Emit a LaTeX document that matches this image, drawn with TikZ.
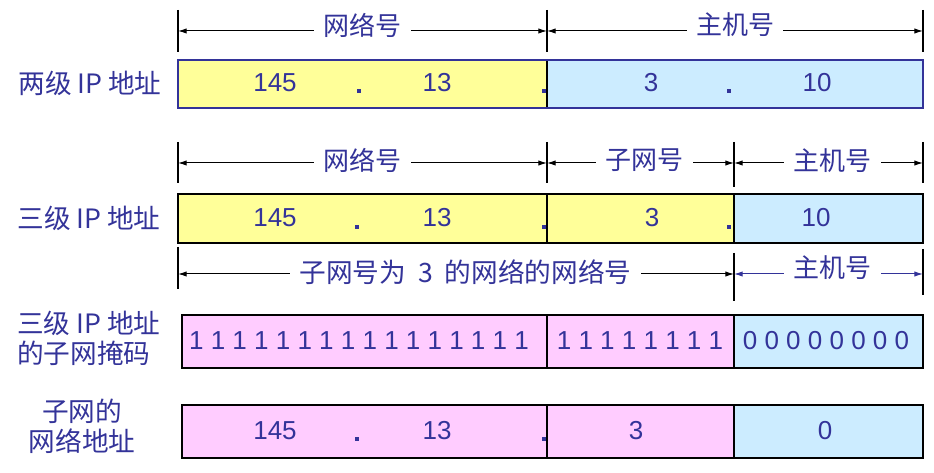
\documentclass[tikz,border=0pt]{standalone}
\usepackage{fontspec}
\setmainfont{Liberation Sans}
\newfontfamily\cjk{Noto Sans CJK SC}
\usetikzlibrary{arrows.meta}
\definecolor{txt}{RGB}{51,51,153}
\definecolor{yel}{RGB}{255,255,153}
\definecolor{lblue}{RGB}{204,236,255}
\definecolor{pnk}{RGB}{255,204,255}
\begin{document}
\begin{tikzpicture}[x=0.75pt,y=-0.75pt,
  num/.style={text=txt,font=\fontsize{19.5}{22}\selectfont,inner sep=0pt},
  lbl/.style={text=txt,font=\cjk\fontsize{19.5}{22.5}\selectfont,inner sep=0pt},
  sidelbl/.style={text=txt,font=\cjk\fontsize{20}{22.5}\selectfont,inner sep=0pt},
  toplbl/.style={lbl,fill=white,inner xsep=7pt,inner ysep=2pt},
  dimline/.style={draw=black,line width=0.75pt,{Latex[length=6.5pt,width=4pt]}-{Latex[length=6.5pt,width=4pt]}},
  bluedim/.style={dimline,draw=txt,{Latex[length=6.5pt,width=4pt,color=txt]}-{Latex[length=6.5pt,width=4pt,color=txt]}},
  tickline/.style={draw=black,line width=1pt},
  border/.style={draw=black,line width=1.1pt},
  dotm/.style={fill=txt,minimum size=3.2pt,inner sep=0pt}
]
\useasboundingbox (0,0) rectangle (934,473);

% ---------------- Row 1 : two-level address ----------------
\coordinate (r1t1a) at (178,10); \coordinate (r1t1b) at (178,52);
\coordinate (r1t2a) at (547,10); \coordinate (r1t2b) at (547,52);
\coordinate (r1t3a) at (923,10); \coordinate (r1t3b) at (923,52);
\draw[tickline] (r1t1a) -- (r1t1b);
\draw[tickline] (r1t2a) -- (r1t2b);
\draw[tickline] (r1t3a) -- (r1t3b);
\coordinate (r1a1) at (178,31); \coordinate (r1a2) at (547,31); \coordinate (r1a3) at (923,31);
\draw[dimline] (r1a1) -- node[toplbl,yshift=4.5pt] (r1net) {网络号} (r1a2);
\draw[dimline] (r1a2) -- node[toplbl,yshift=4.5pt] (r1host) {主机号} (r1a3);

\fill[yel] (178,60) rectangle (547,108);
\fill[lblue] (547,60) rectangle (923,108);
\draw[draw=black,line width=1.1pt] (547,60) -- (547,108);
\draw[draw=txt,line width=1.1pt] (178,60) rectangle (923,108);
\node[sidelbl] (L1) at (90,83) {两级 IP 地址};
\node[num] (r1n1) at (275,83) {145};
\node[num] (r1n2) at (437,83) {13};
\node[num] (r1n3) at (651,83) {3};
\node[num] (r1n4) at (817,83) {10};
\node[dotm] (r1d1) at (359,91) {};
\node[dotm] (r1d2) at (544,91) {};
\node[dotm] (r1d3) at (729,91) {};

% ---------------- Row 2 : three-level address ----------------
\coordinate (r2t1a) at (178,142); \coordinate (r2t1b) at (178,183);
\coordinate (r2t2a) at (547,142); \coordinate (r2t2b) at (547,183);
\coordinate (r2t3a) at (734,142); \coordinate (r2t3b) at (734,187);
\coordinate (r2t4a) at (923,142); \coordinate (r2t4b) at (923,183);
\draw[tickline] (r2t1a) -- (r2t1b);
\draw[tickline] (r2t2a) -- (r2t2b);
\draw[tickline] (r2t3a) -- (r2t3b);
\draw[tickline] (r2t4a) -- (r2t4b);
\coordinate (r2a1) at (178,163); \coordinate (r2a2) at (547,163);
\coordinate (r2a3) at (734,163); \coordinate (r2a4) at (923,163);
\draw[dimline] (r2a1) -- node[toplbl,yshift=2pt] (r2net) {网络号} (r2a2);
\draw[dimline] (r2a2) -- node[toplbl,yshift=2pt,xshift=3pt] (r2sub) {子网号} (r2a3);
\draw[dimline] (r2a3) -- node[toplbl,yshift=2pt,xshift=3pt] (r2host) {主机号} (r2a4);

\fill[yel] (178,194) rectangle (734,243);
\fill[lblue] (734,194) rectangle (923,243);
\draw[border] (547,194) -- (547,243);
\draw[border] (734,194) -- (734,243);
\draw[border] (178,194) rectangle (923,243);
\node[sidelbl] (L2) at (89,218) {三级 IP 地址};
\node[num] (r2n1) at (275,218) {145};
\node[num] (r2n2) at (437,218) {13};
\node[num] (r2n3) at (652,218) {3};
\node[num] (r2n4) at (816,218) {10};
\node[dotm] (r2d1) at (357,227) {};
\node[dotm] (r2d2) at (544,227) {};
\node[dotm] (r2d3) at (729,227) {};

% ---------------- Row 3 : subnet mask ----------------
\coordinate (r3t1a) at (178,247); \coordinate (r3t1b) at (178,289);
\coordinate (r3t2a) at (734,253); \coordinate (r3t2b) at (734,301);
\coordinate (r3t3a) at (923,249); \coordinate (r3t3b) at (923,295);
\draw[tickline] (r3t1a) -- (r3t1b);
\draw[tickline] (r3t2a) -- (r3t2b);
\draw[tickline] (r3t3a) -- (r3t3b);
\coordinate (r3a1) at (178,274); \coordinate (r3a2) at (734,274); \coordinate (r3a3) at (923,274);
\draw[dimline] (r3a1) -- node[toplbl,font=\cjk\fontsize{20}{22.5}\selectfont,pos=0.517,yshift=1.5pt] (r3net) {子网号为\hspace{0.45em}3\hspace{0.45em}的网络的网络号} (r3a2);
\draw[bluedim] (r3a2) -- node[toplbl,xshift=3pt,yshift=5pt] (r3host) {主机号} (r3a3);

\fill[pnk] (182,315) rectangle (734,368);
\fill[lblue] (734,315) rectangle (923,368);
\draw[border] (547,315) -- (547,368);
\draw[border] (734,315) -- (734,368);
\draw[border] (182,315) rectangle (923,368);
\node[sidelbl,align=left,anchor=west] (L3) at (17,338) {三级 IP 地址\\的子网掩码};
\node[num] (r3n1) at (359,341) {1 1 1 1 1 1 1 1 1 1 1 1 1 1 1 1};
\node[num] (r3n2) at (640,341) {1 1 1 1 1 1 1 1};
\node[num] (r3n3) at (826,341) {0 0 0 0 0 0 0 0};

% ---------------- Row 4 : subnet address ----------------
\fill[pnk] (182,405) rectangle (734,458);
\fill[lblue] (734,405) rectangle (923,458);
\draw[border] (547,405) -- (547,458);
\draw[border] (734,405) -- (734,458);
\draw[border] (182,405) rectangle (923,458);
\node[sidelbl,align=center] (L4) at (82,426) {子网的\\网络地址};
\node[num] (r4n1) at (275,431) {145};
\node[num] (r4n2) at (437,431) {13};
\node[num] (r4n3) at (636,431) {3};
\node[num] (r4n4) at (825,431) {0};
\node[dotm] (r4d1) at (357,439) {};
\node[dotm] (r4d2) at (544,439) {};
\end{tikzpicture}
\end{document}
